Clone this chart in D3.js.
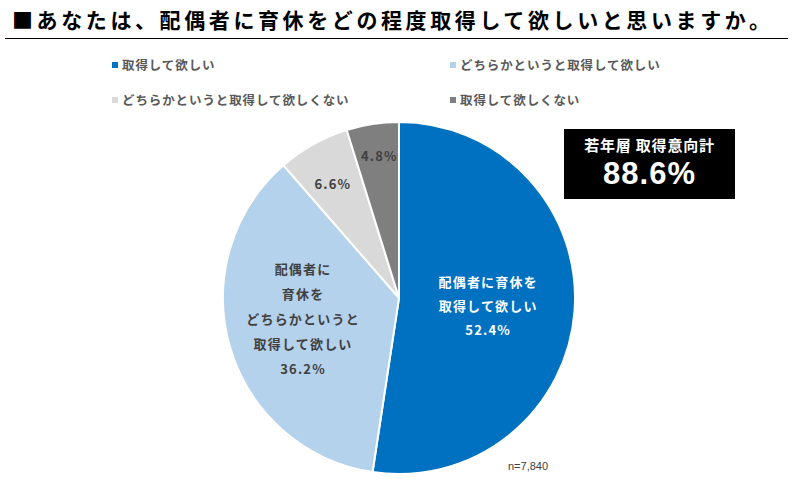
<!DOCTYPE html>
<html>
<head>
<meta charset="utf-8">
<script src="https://cdn.jsdelivr.net/npm/d3@7"></script>
<style>
  body { margin: 0; background: #fff; }
  svg { display: block; font-family: "Noto Sans CJK JP", "Noto Sans", sans-serif; }
</style>
</head>
<body>
<svg id="chart" width="793" height="483"></svg>
<script>
// data
var categories = ['取得して欲しい', 'どちらかというと取得して欲しい', 'どちらかというと取得して欲しくない', '取得して欲しくない'];
var values = [52.4, 36.2, 6.6, 4.8];
var colors = ['#0070C0', '#B4D2EC', '#D9D9D9', '#7F7F7F'];
var sliceLabels = [
    ['配偶者に育休を', '取得して欲しい', '52.4%'],
    ['配偶者に', '育休を', 'どちらかというと', '取得して欲しい', '36.2%'],
    ['6.6%'],
    ['4.8%']
];
var labelColors = ['#ffffff', '#404040', '#404040', '#404040'];
var title = '■あなたは、配偶者に育休をどの程度取得して欲しいと思いますか。';
var boxTitle = '若年層 取得意向計';
var boxValue = '88.6%';
var sampleNote = 'n=7,840';

var svg = d3.select('#chart');

// title + rule
svg.append('text')
    .attr('x', 12).attr('y', 28)
    .attr('font-size', 21).attr('font-weight', 700)
    .attr('letter-spacing', 3.6)
    .attr('fill', '#000')
    .text(title);
svg.append('line')
    .attr('x1', 5).attr('x2', 788)
    .attr('y1', 38.5).attr('y2', 38.5)
    .attr('stroke', '#000').attr('stroke-width', 1);

// legend
var legendPos = [[112, 66], [450, 66], [112, 101], [450, 101]];
var legend = svg.append('g').selectAll('g')
    .data(categories)
    .enter()
    .append('g')
    .attr('transform', (d, i) => 'translate(' + legendPos[i][0] + ',' + legendPos[i][1] + ')');
legend.append('rect')
    .attr('x', 0).attr('y', -4)
    .attr('width', 6).attr('height', 6)
    .attr('fill', (d, i) => colors[i]);
legend.append('text')
    .attr('x', 10).attr('y', 0)
    .attr('dy', '0.35em')
    .attr('font-size', 12.5).attr('font-weight', 700)
    .attr('letter-spacing', 0.9)
    .attr('fill', '#595959')
    .text((d) => d);

// pie
var cx = 399, cy = 298, radius = 176;
var pie = d3.pie().sort(null).value((d) => d);
var arc = d3.arc().innerRadius(0).outerRadius(radius);
var arcs = pie(values);

var g = svg.append('g').attr('transform', 'translate(' + cx + ',' + cy + ')');
g.selectAll('path')
    .data(arcs)
    .enter()
    .append('path')
    .attr('d', arc)
    .attr('fill', (d, i) => colors[i])
    .attr('stroke', '#fff')
    .attr('stroke-width', 2);

// label placement
var labelRadius = [0.40, 0.55, 0.69, 0.82];
var labelOffset = [[19, 3], [-3, -6], [-7, -8], [2, 1]];
var labelArc = arcs.map((a, i) => d3.arc().innerRadius(radius * labelRadius[i]).outerRadius(radius * labelRadius[i]).centroid(a));

var labels = g.selectAll('text.slice')
    .data(arcs)
    .enter()
    .append('text')
    .attr('class', 'slice')
    .attr('text-anchor', 'middle')
    .attr('font-size', 13).attr('font-weight', 700)
    .attr('letter-spacing', 1.2)
    .attr('fill', (d, i) => labelColors[i])
    .attr('transform', (d, i) => 'translate(' + (labelArc[i][0] + labelOffset[i][0]) + ',' + (labelArc[i][1] + labelOffset[i][1]) + ')');

labels.each(function (d, i) {
    var lines = sliceLabels[i];
    var lh = i === 0 ? 24 : 25;
    var t = d3.select(this);
    lines.forEach(function (line, j) {
        t.append('tspan')
            .attr('x', 0)
            .attr('y', (j - (lines.length - 1) / 2) * lh)
            .attr('dy', '0.35em')
            .text(line);
    });
});

// sample size
svg.append('text')
    .attr('x', 508).attr('y', 470)
    .attr('font-family', 'Arial, "Liberation Sans", sans-serif')
    .attr('font-size', 11)
    .attr('fill', '#404040')
    .text(sampleNote);

// black box
var box = svg.append('g').attr('transform', 'translate(564,129)');
box.append('rect')
    .attr('width', 171).attr('height', 70)
    .attr('fill', '#000');
box.append('text')
    .attr('x', 85.5).attr('y', 17)
    .attr('text-anchor', 'middle')
    .attr('dy', '0.35em')
    .attr('font-size', 15).attr('font-weight', 700)
    .attr('letter-spacing', 0.8)
    .attr('fill', '#fff')
    .text(boxTitle);
box.append('text')
    .attr('x', 85.5).attr('y', 44)
    .attr('text-anchor', 'middle')
    .attr('dy', '0.35em')
    .attr('font-family', 'Arial, "Liberation Sans", sans-serif')
    .attr('font-size', 31).attr('font-weight', 700)
    .attr('letter-spacing', 1)
    .attr('fill', '#fff')
    .text(boxValue);
</script>
</body>
</html>
